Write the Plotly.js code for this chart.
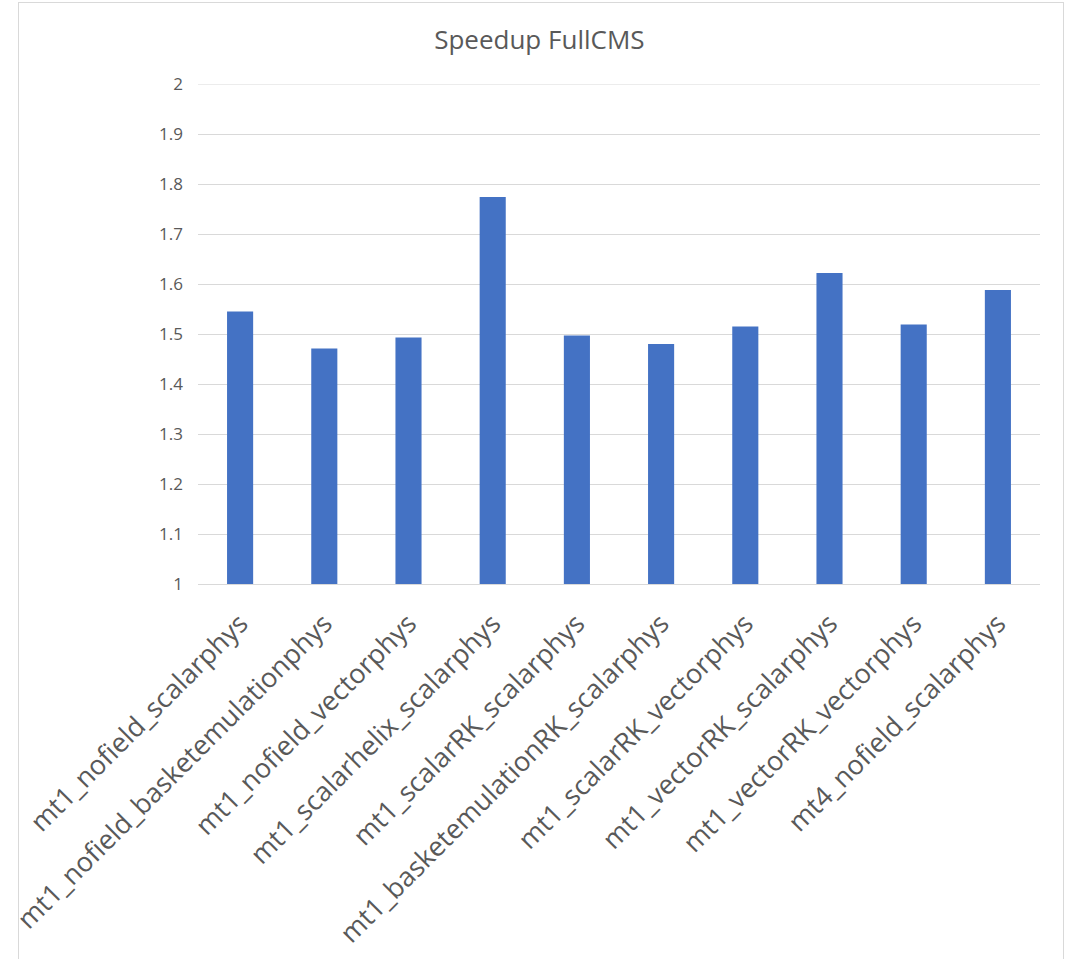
<!DOCTYPE html>
<html>
<head>
<meta charset="utf-8">
<script src="https://cdn.plot.ly/plotly-3.0.1.min.js"></script>
<style>
html,body{margin:0;padding:0;background:#fff;}
#wrap{position:relative;width:1068px;height:959px;overflow:hidden;}
#frame{position:absolute;left:18px;top:2px;width:1046px;height:960px;border:1px solid #d9d9d9;box-sizing:border-box;pointer-events:none;}
#chart{position:absolute;left:0;top:0;width:1068px;height:959px;}
</style>
</head>
<body>
<div id="wrap">
<div id="chart"></div>
<div id="frame"></div>
</div>
<script>
const categories = [
  "mt1_nofield_scalarphys",
  "mt1_nofield_basketemulationphys",
  "mt1_nofield_vectorphys",
  "mt1_scalarhelix_scalarphys",
  "mt1_scalarRK_scalarphys",
  "mt1_basketemulationRK_scalarphys",
  "mt1_scalarRK_vectorphys",
  "mt1_vectorRK_scalarphys",
  "mt1_vectorRK_vectorphys",
  "mt4_nofield_scalarphys"
];
const speedup = [1.545, 1.471, 1.493, 1.774, 1.497, 1.480, 1.515, 1.622, 1.519, 1.588];
const yTicks = [1, 1.1, 1.2, 1.3, 1.4, 1.5, 1.6, 1.7, 1.8, 1.9, 2];
const yMax = 2;

const trace = {
  type: "bar",
  x: categories,
  y: speedup,
  base: 0,
  marker: {color: "#4472C4"},
  hoverinfo: "x+y"
};

const layout = {
  width: 1068,
  height: 959,
  margin: {l: 198, r: 28, t: 84, b: 375},
  paper_bgcolor: "rgba(0,0,0,0)",
  plot_bgcolor: "#fff",
  bargap: 0.69,
  showlegend: false,
  font: {family: "Open Sans, Noto Sans, sans-serif", color: "#595959"},
  title: {
    text: "Speedup FullCMS",
    font: {size: 26, color: "#595959", family: "Open Sans, Noto Sans, sans-serif"},
    x: 0.505, xanchor: "center",
    y: 0.958, yanchor: "middle"
  },
  shapes: [{
    type: "line", xref: "paper", yref: "y",
    x0: 0, x1: 1, y0: yMax, y1: yMax,
    line: {color: "#d9d9d9", width: 1},
    layer: "below"
  }],
  xaxis: {
    type: "category",
    tickangle: -45,
    tickfont: {size: 27, color: "#595959"},
    showgrid: false,
    showline: true,
    linecolor: "#d9d9d9",
    linewidth: 1,
    ticks: "",
    ticklabelstandoff: 12,
    automargin: false,
    zeroline: false
  },
  yaxis: {
    range: [1, yMax],
    tickvals: yTicks,
    ticktext: yTicks.map(v => String(v)),
    tickfont: {size: 17, color: "#595959"},
    showgrid: true,
    gridcolor: "#d9d9d9",
    gridwidth: 1,
    showline: false,
    zeroline: false,
    ticks: "",
    ticklabelstandoff: 14,
    automargin: false
  }
};

Plotly.newPlot("chart", [trace], layout, {displayModeBar: false, staticPlot: true});
</script>
</body>
</html>
